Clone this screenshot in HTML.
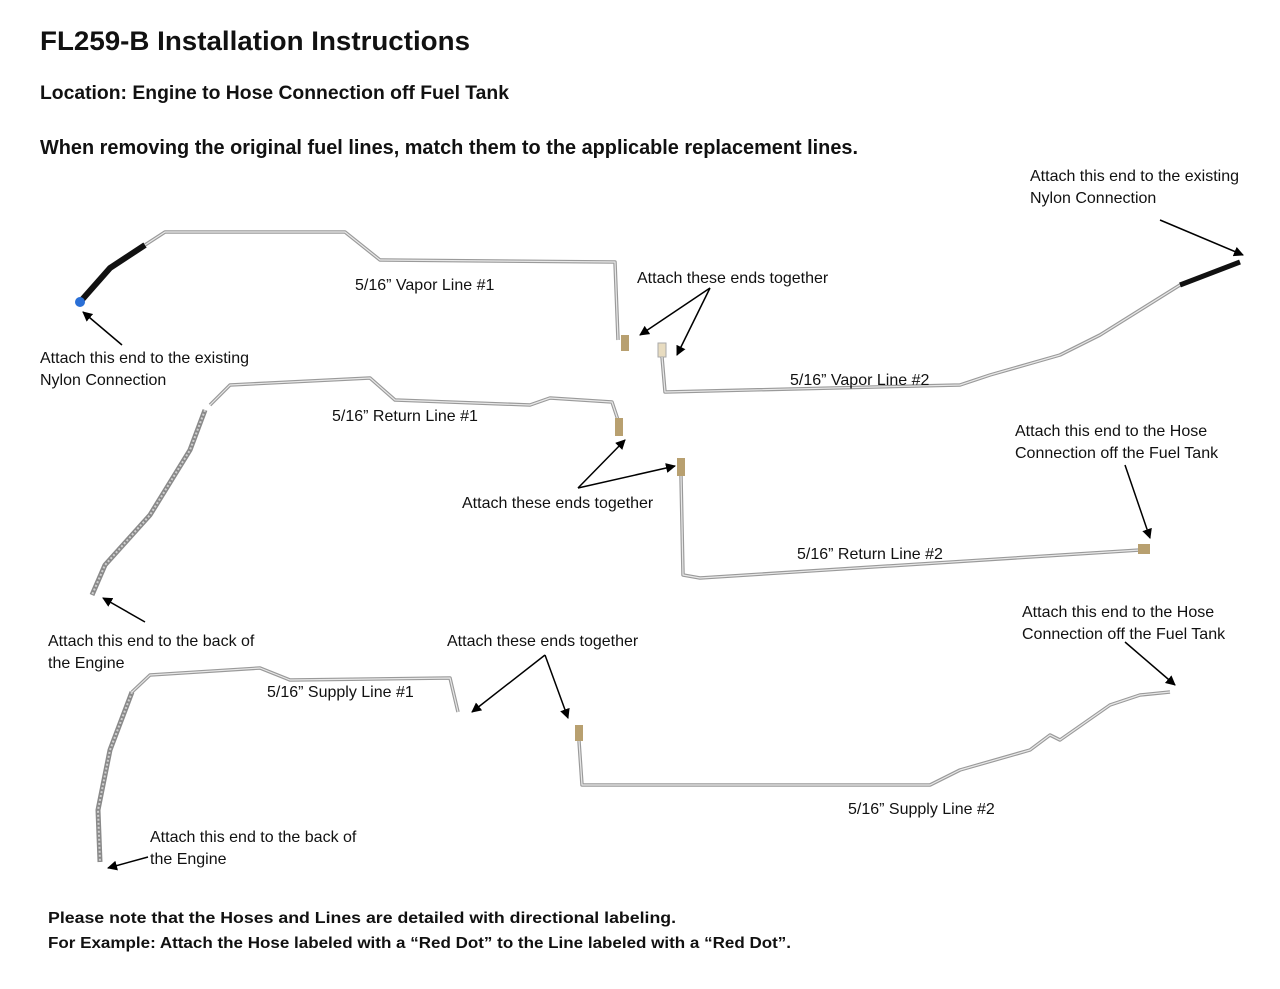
<!DOCTYPE html>
<html><head><meta charset="utf-8"><style>
html,body{margin:0;padding:0;background:#fff;}
svg{display:block;}
text{font-family:"Liberation Sans",sans-serif;fill:#111;}
.b{font-weight:bold;}
.l{font-size:16px;}
.pipe{fill:none;stroke:#9a9a9a;stroke-width:3.5;stroke-linejoin:round;}
.pipe2{fill:none;stroke:#e8e8e8;stroke-width:1.2;stroke-linejoin:round;}
.hose{fill:none;stroke:#8a8a8a;stroke-width:5;stroke-linejoin:round;}
.hose2{fill:none;stroke:#d0d0d0;stroke-width:2;stroke-dasharray:2 2;}
.arr{stroke:#000;stroke-width:1.5;fill:none;marker-end:url(#ah);}
</style></head><body>
<svg width="1280" height="989" viewBox="0 0 1280 989" xmlns="http://www.w3.org/2000/svg">
<defs><marker id="ah" markerWidth="10" markerHeight="10" refX="9" refY="5" orient="auto" markerUnits="userSpaceOnUse"><path d="M0,0 L10,5 L0,10 Z" fill="#000"/></marker></defs>
<rect width="1280" height="989" fill="#fff"/>
<text x="40" y="50" class="b" font-size="27" textLength="430" lengthAdjust="spacingAndGlyphs">FL259-B Installation Instructions</text>
<text x="40" y="99" class="b" font-size="19" textLength="469" lengthAdjust="spacingAndGlyphs">Location: Engine to Hose Connection off Fuel Tank</text>
<text x="40" y="154" class="b" font-size="20" textLength="818" lengthAdjust="spacingAndGlyphs">When removing the original fuel lines, match them to the applicable replacement lines.</text>

<!-- Vapor 1 -->
<path d="M80,302 L110,268 L145,245" stroke="#111" stroke-width="6" fill="none"/>
<circle cx="80" cy="302" r="5" fill="#2a6fd6"/>
<path class="pipe" d="M145,245 L165,232 L345,232 L380,260 L615,262 L618,340"/>
<path class="pipe2" d="M145,245 L165,232 L345,232 L380,260 L615,262 L618,340"/>
<rect x="621" y="335" width="8" height="16" fill="#b8a070"/>
<!-- Vapor 2 -->
<rect x="658" y="343" width="8" height="14" fill="#e8dcc0" stroke="#aaa"/>
<path class="pipe" d="M662,357 L665,392 L960,385 L990,375 L1060,355 L1100,335 L1180,285"/>
<path class="pipe2" d="M662,357 L665,392 L960,385 L990,375 L1060,355 L1100,335 L1180,285"/>
<path d="M1180,285 L1240,262" stroke="#111" stroke-width="5" fill="none"/>
<!-- Return 1 -->
<path class="pipe" d="M210,405 L230,385 L370,378 L395,400 L530,405 L550,398 L612,402 L618,420"/>
<path class="pipe2" d="M210,405 L230,385 L370,378 L395,400 L530,405 L550,398 L612,402 L618,420"/>
<rect x="615" y="418" width="8" height="18" fill="#b8a070"/>
<path class="hose" d="M205,410 L190,450 L150,515 L105,565 L92,595"/>
<path class="hose2" d="M205,410 L190,450 L150,515 L105,565 L92,595"/>
<!-- Return 2 -->
<rect x="677" y="458" width="8" height="18" fill="#b8a070"/>
<path class="pipe" d="M681,476 L683,575 L700,578 L1140,550"/>
<path class="pipe2" d="M681,476 L683,575 L700,578 L1140,550"/>
<rect x="1138" y="544" width="12" height="10" fill="#b8a070"/>
<!-- Supply 1 -->
<path class="pipe" d="M132,692 L150,675 L260,668 L290,680 L450,678 L458,712"/>
<path class="pipe2" d="M132,692 L150,675 L260,668 L290,680 L450,678 L458,712"/>
<path class="hose" d="M132,692 L110,750 L98,810 L100,862"/>
<path class="hose2" d="M132,692 L110,750 L98,810 L100,862"/>
<!-- Supply 2 -->
<rect x="575" y="725" width="8" height="16" fill="#b8a070"/>
<path class="pipe" d="M579,741 L582,785 L930,785 L960,770 L1030,750 L1050,735 L1060,740 L1110,705 L1140,695 L1170,692"/>
<path class="pipe2" d="M579,741 L582,785 L930,785 L960,770 L1030,750 L1050,735 L1060,740 L1110,705 L1140,695 L1170,692"/>

<!-- labels -->
<text x="355" y="290" class="l">5/16” Vapor Line #1</text>
<text x="790" y="385" class="l">5/16” Vapor Line #2</text>
<text x="332" y="421" class="l">5/16” Return Line #1</text>
<text x="797" y="559" class="l">5/16” Return Line #2</text>
<text x="267" y="697" class="l">5/16” Supply Line #1</text>
<text x="848" y="814" class="l">5/16” Supply Line #2</text>

<text x="40" y="363" class="l">Attach this end to the existing</text>
<text x="40" y="385" class="l">Nylon Connection</text>
<path class="arr" d="M122,345 L83,312"/>

<text x="637" y="283" class="l">Attach these ends together</text>
<path class="arr" d="M710,288 L640,335"/>
<path class="arr" d="M710,288 L677,355"/>

<text x="1030" y="181" class="l">Attach this end to the existing</text>
<text x="1030" y="203" class="l">Nylon Connection</text>
<path class="arr" d="M1160,220 L1243,255"/>

<text x="462" y="508" class="l">Attach these ends together</text>
<path class="arr" d="M578,488 L625,440"/>
<path class="arr" d="M578,488 L675,466"/>

<text x="1015" y="436" class="l">Attach this end to the Hose</text>
<text x="1015" y="458" class="l">Connection off the Fuel Tank</text>
<path class="arr" d="M1125,465 L1150,538"/>

<text x="48" y="646" class="l">Attach this end to the back of</text>
<text x="48" y="668" class="l">the Engine</text>
<path class="arr" d="M145,622 L103,598"/>

<text x="447" y="646" class="l">Attach these ends together</text>
<path class="arr" d="M545,655 L472,712"/>
<path class="arr" d="M545,655 L568,718"/>

<text x="1022" y="617" class="l">Attach this end to the Hose</text>
<text x="1022" y="639" class="l">Connection off the Fuel Tank</text>
<path class="arr" d="M1125,642 L1175,685"/>

<text x="150" y="842" class="l">Attach this end to the back of</text>
<text x="150" y="864" class="l">the Engine</text>
<path class="arr" d="M148,857 L108,868"/>

<text x="48" y="923" class="b" font-size="16" textLength="628" lengthAdjust="spacingAndGlyphs">Please note that the Hoses and Lines are detailed with directional labeling.</text>
<text x="48" y="948" class="b" font-size="16" textLength="743" lengthAdjust="spacingAndGlyphs">For Example: Attach the Hose labeled with a “Red Dot” to the Line labeled with a “Red Dot”.</text>
</svg>
</body></html>
